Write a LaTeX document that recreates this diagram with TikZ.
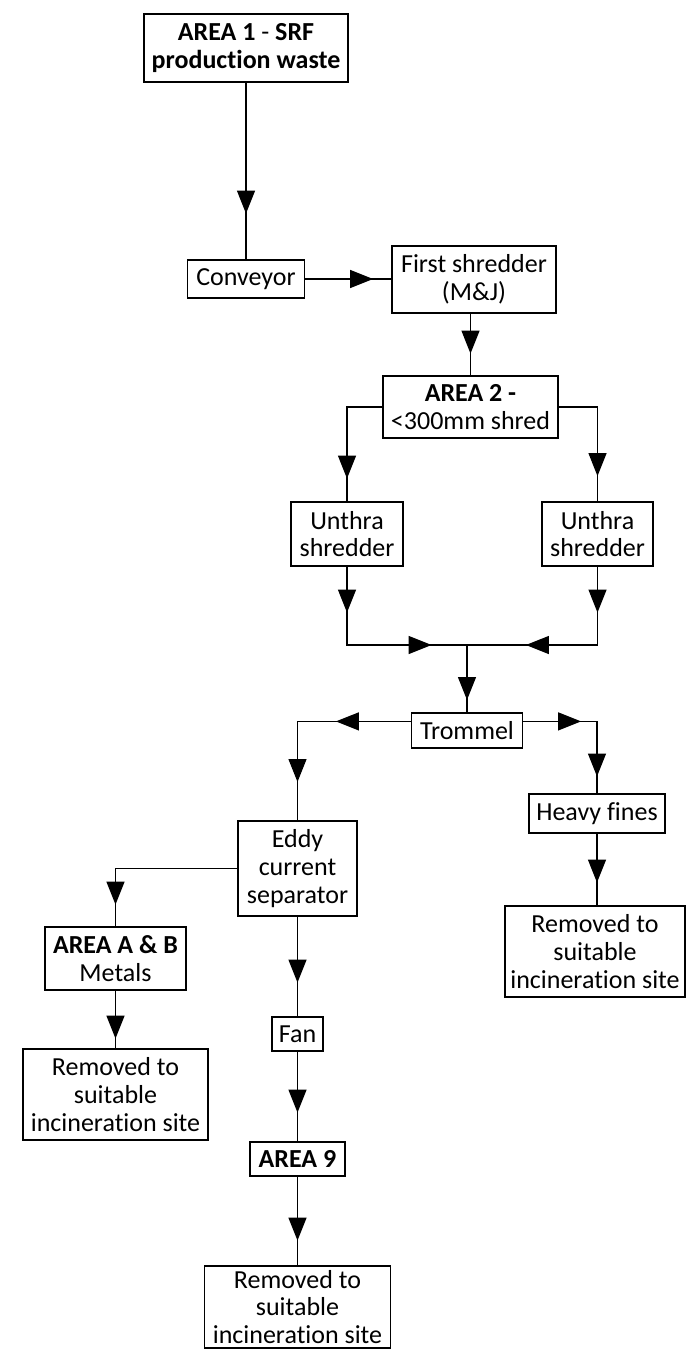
\documentclass[tikz,border=0pt]{standalone}
\usepackage{fontspec}
\setmainfont[Ligatures=NoCommon]{Carlito}
\usepackage{tikz}
\usetikzlibrary{positioning, arrows.meta, calc, decorations.markings}

\tikzset{
  flowtip/.tip={Triangle[length=11.5pt, width=9pt]},
  stage/.style={draw, line width=0.6pt, align=center, inner sep=0pt,
                font=\fontsize{13}{13.8}\selectfont},
  flow/.style={line width=0.6pt},
  tipat/.style={postaction={decorate}, decoration={markings,
                mark=at position #1 with {\arrow{flowtip}}}},
  twotips/.style 2 args={postaction={decorate}, decoration={markings,
                mark=at position #1 with {\arrow{flowtip}},
                mark=at position #2 with {\arrow{flowtip}}}},
}

\begin{document}
\begin{tikzpicture}[x=0.5pt, y=-0.5pt]
    \useasboundingbox (0,0) rectangle (686,1358);

    % stages
    \node[stage, minimum width=102pt, minimum height=34pt] (area1) at (246,48)
        {\textbf{AREA 1} - \textbf{SRF}\\\textbf{production waste}};
    \node[stage, minimum width=58.5pt, minimum height=19pt] (conveyor) at (246,279) {Conveyor};
    \node[stage, minimum width=82pt, minimum height=33.5pt] (shred1) at (474,279.5)
        {First shredder\\(M\&J)};
    \node[stage, minimum width=87.5pt, minimum height=31pt] (area2) at (470.5,407)
        {\textbf{AREA 2 -}\\<300mm shred};
    \node[stage, minimum width=56pt, minimum height=32pt] (unthraL) at (347,534) {Unthra\\shredder};
    \node[stage, minimum width=55.5pt, minimum height=32pt] (unthraR) at (597.5,534) {Unthra\\shredder};
    \node[stage, minimum width=55.5pt, minimum height=17.5pt] (trommel) at (467,730.5) {Trommel};
    \node[stage, minimum width=59.5pt, minimum height=47.5pt] (eddy) at (297.5,868.5)
        {Eddy\\current\\separator};
    \node[stage, minimum width=68pt, minimum height=19.5pt] (heavy) at (597,813.5) {Heavy fines};
    \node[stage, minimum width=90pt, minimum height=45.5pt] (removedR) at (595,951.5)
        {Removed to\\suitable\\incineration site};
    \node[stage, minimum width=70.5pt, minimum height=31.5pt] (metals) at (115.5,958.5)
        {\textbf{AREA A \& B}\\Metals};
    \node[stage, minimum width=92.5pt, minimum height=45.5pt] (removedL) at (115.5,1094.5)
        {Removed to\\suitable\\incineration site};
    \node[stage, minimum width=25.5pt, minimum height=17pt] (fan) at (297.5,1034) {Fan};
    \node[stage, minimum width=47.5pt, minimum height=17pt] (area9) at (297.5,1159) {\textbf{AREA 9}};
    \node[stage, minimum width=93pt, minimum height=41pt] (removedB) at (297.5,1307)
        {Removed to\\suitable\\incineration site};

    \coordinate (merge) at (467,645);

    % connectors
    \draw[flow, tipat=65.5pt] (area1.south) -- (conveyor.north);
    \draw[flow, tipat=34pt] (conveyor.east) -- (conveyor.east -| shred1.west);
    \draw[flow, tipat=20pt] (area2.north |- shred1.south) -- (area2.north);
    \draw[flow, tipat=53.5pt] (area2.west) -| (unthraL.north);
    \draw[flow, tipat=54pt] (area2.east) -| (unthraR.north);
    \draw[flow, twotips={23pt}{81.5pt}] (unthraL.south) |- (merge);
    \draw[flow, twotips={23pt}{75pt}] (unthraR.south) |- (merge);
    \draw[flow, tipat=27.5pt] (merge) -- (merge |- trommel.north);
    \draw[flow, twotips={37.5pt}{87pt}] ([yshift=-4.5pt]trommel.north west) -| (eddy.north);
    \draw[flow, twotips={29pt}{64.5pt}] ([yshift=-4.5pt]trommel.north east) -| (heavy.north);
    \draw[flow, tipat=79pt] (eddy.west) -| (metals.north);
    \draw[flow, tipat=33pt] (eddy.south) -- (fan.north);
    \draw[flow, tipat=24pt] (metals.south) -- (removedL.north);
    \draw[flow, tipat=30.5pt] (fan.south) -- (area9.north);
    \draw[flow, tipat=32pt] (area9.south) -- (removedB.north);
    \draw[flow, tipat=24.5pt] (heavy.south) -- (heavy.south |- removedR.north);
\end{tikzpicture}
\end{document}
